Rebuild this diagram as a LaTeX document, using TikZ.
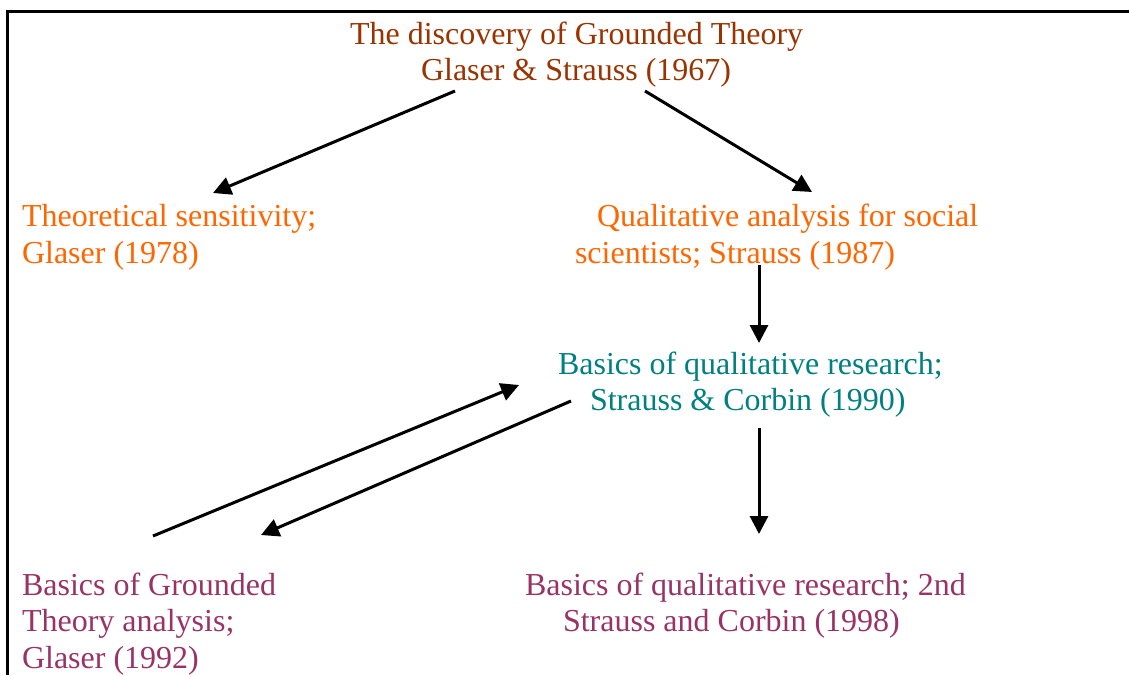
\documentclass[tikz,border=0pt]{standalone}
\usepackage{fontspec}
\setmainfont{Liberation Serif}
\usetikzlibrary{arrows.meta}
\definecolor{titlebrown}{RGB}{153,51,0}
\definecolor{bookorange}{RGB}{255,102,0}
\definecolor{bookteal}{RGB}{0,128,128}
\definecolor{bookplum}{RGB}{153,51,102}
\tikzset{
  book/.style={anchor=north west, inner sep=0pt, outer sep=0pt, align=left,
    font=\fontsize{32}{36.7}\selectfont},
  link/.style={line width=3pt, -{Triangle[length=18pt,width=18pt]}},
  frameline/.style={line width=3pt, line join=miter}
}
\begin{document}
\begin{tikzpicture}[x=1pt, y=-1pt]
  \useasboundingbox (0,0) rectangle (1129,675);
  % open frame: left and top edges only
  \draw[frameline] (7,675) -- (7,11) -- (1129,11);

  % the books
  \node[book, text=titlebrown] (title) at (350,18.5)
    {\strut The discovery of Grounded Theory\\\hspace*{71pt}Glaser \& Strauss (1967)};
  \node[book, text=bookorange] (theo) at (22,201)
    {\strut Theoretical sensitivity;\\Glaser (1978)};
  \node[book, text=bookorange] (qual) at (575,201)
    {\strut\hspace*{22pt}Qualitative analysis for social\\scientists; Strauss (1987)};
  \node[book, text=bookteal] (basics90) at (558,348.6)
    {\strut Basics of qualitative research;\\\hspace*{32pt}Strauss \& Corbin (1990)};
  \node[book, text=bookplum] (glaser92) at (22,569.3)
    {\strut Basics of Grounded\\Theory analysis;\\Glaser (1992)};
  \node[book, text=bookplum] (basics98) at (525,569.3)
    {\strut Basics of qualitative research; 2nd\\\hspace*{38pt}Strauss and Corbin (1998)};

  % lineage arrows
  \draw[link] ([shift={(105,72.5)}]title.north west) -- ([shift={(191,-8)}]theo.north west);
  \draw[link] ([shift={(295,72.5)}]title.north west) -- ([shift={(237,-9)}]qual.north west);
  \draw[link] ([shift={(184,64)}]qual.north west) -- ([shift={(201,-5.6)}]basics90.north west);
  \draw[link] ([shift={(131,-33.3)}]glaser92.north west) -- ([shift={(-39,36.4)}]basics90.north west);
  \draw[link] ([shift={(13,52.4)}]basics90.north west) -- ([shift={(239,-34.3)}]glaser92.north west);
  \draw[link] ([shift={(201,79.4)}]basics90.north west) -- ([shift={(234,-35.3)}]basics98.north west);
\end{tikzpicture}
\end{document}
